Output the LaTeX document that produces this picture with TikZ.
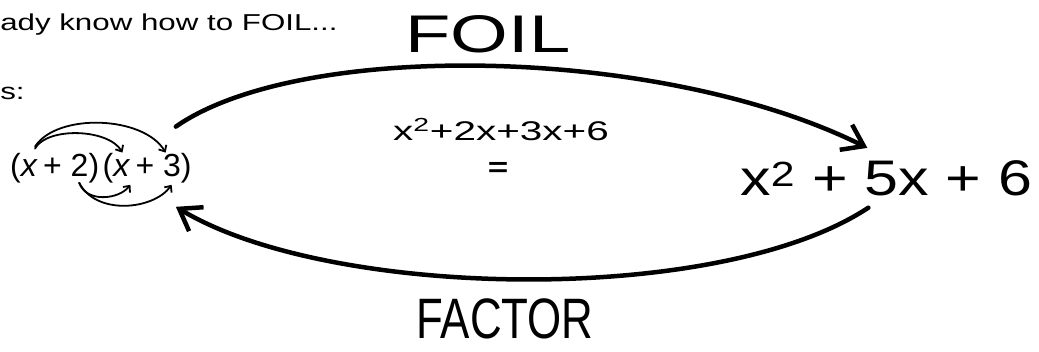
\documentclass[tikz,border=0pt]{standalone}
\usepackage{fontspec}
\setmainfont{Liberation Sans}
\usetikzlibrary{positioning,arrows.meta}

\begin{document}
\begin{tikzpicture}[x=1pt,y=-1pt,line cap=round,
  prt/.style={inner sep=0pt,font=\fontsize{23}{25}\selectfont,xscale=1.36},
  prod/.style={inner sep=0pt,font=\fontsize{32}{34}\selectfont},
  bigarrow/.style={line width=4.5pt,-{Straight Barb[length=20pt,width=28pt]}},
  smallarrow/.style={line width=1.8pt,-{Straight Barb[length=5pt,width=9pt]}}]
\path[use as bounding box] (0,0) rectangle (1039,352);
% printed text
\node[prt,anchor=base west] (intro) at (0,31) {ady know how to FOIL...};
\node[prt,anchor=base west] (this) at (0,100) {s:};
\node[prod,anchor=base west] (xa) at (10,177) {(\textit{x}};
\node[prod,base right=5pt of xa] (ta) {+ 2)};
\node[prod,base right=3pt of ta] (xb) {(\textit{x}};
\node[prod,base right=5pt of xb] (tb) {+ 3)};
% handwritten
\node[inner sep=0pt,font=\fontsize{53}{55}\selectfont,xscale=1.4] (foil) at (488,34) {FOIL};
\node[inner sep=0pt,font=\fontsize{27}{29}\selectfont,xscale=1.5] (mid) at (501,130) {x\textsuperscript{2}+2x+3x+6};
\node[inner sep=0pt,font=\bfseries\fontsize{27}{29}\selectfont,xscale=1.3] (eq) at (498,169) {=};
\node[inner sep=0pt,font=\fontsize{50}{52}\selectfont,xscale=1.22,anchor=base west] (rhs) at (740,196) {x\textsuperscript{2} + 5x + 6};
\node[inner sep=0pt,font=\fontsize{57}{59}\selectfont,xscale=0.77,anchor=base] (factor) at (505,339) {FACTOR};
% the four products
\draw[smallarrow] ([shift={(-3,-5)}]xa.north east) .. controls +(12,-22) and +(-14,-24) .. ([shift={(-8,-1)}]xb.north east);
\draw[smallarrow] ([shift={(-3,-7)}]xa.north east) .. controls +(22,-34) and +(-22,-37) .. ([shift={(2,-1)}]tb.north);
\draw[smallarrow] ([shift={(8,-1)}]ta.south) .. controls +(7,20) and +(-12,15) .. ([shift={(0,1)}]xb.south east);
\draw[smallarrow] ([shift={(8,-1)}]ta.south) .. controls +(17,33) and +(-18,25) .. ([shift={(8,1)}]tb.south);
% FOIL and FACTOR
\draw[bigarrow] ([shift={(-16,-27)}]tb.north east) .. controls (300,40) and (660,45) .. ([shift={(-19,-13)}]rhs.north);
\draw[bigarrow] ([shift={(-18,11)}]rhs.south) .. controls (720,306) and (330,300) .. ([shift={(-16,23)}]tb.south east);
\end{tikzpicture}
\end{document}
